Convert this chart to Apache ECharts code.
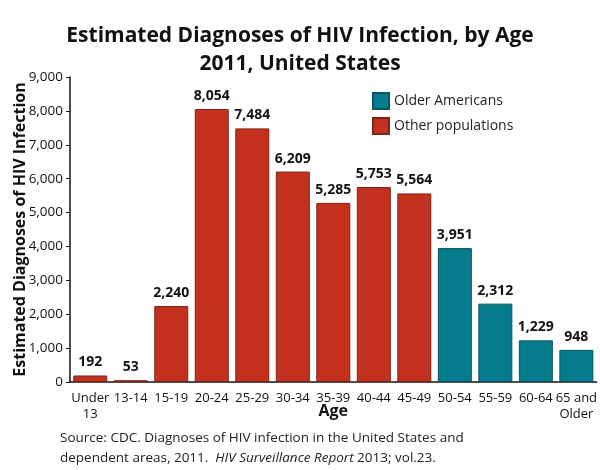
<!DOCTYPE html>
<html><head><meta charset="utf-8">
<script src="https://cdn.jsdelivr.net/npm/echarts@6/dist/echarts.min.js"></script>
<style>html,body{margin:0;padding:0;background:#fff}#c{width:600px;height:470px}</style>
</head><body><div id="c"></div>
<script>
const categories = ['Under\n13','13-14','15-19','20-24','25-29','30-34','35-39','40-44','45-49','50-54','55-59','60-64','65 and\nOlder'];
const otherValues = [192,53,2240,8054,7484,6209,5285,5753,5564,'-','-','-','-'];
const olderValues = ['-','-','-','-','-','-','-','-','-',3951,2312,1229,948];
const yTicks = [0,1000,2000,3000,4000,5000,6000,7000,8000,9000];
const FONT = 'Open Sans';
const chart = echarts.init(document.getElementById('c'), null, {renderer:'canvas'});
const fmt = v => v.toLocaleString('en-US');
const labelCfg = {show:true, position:'top', distance:6, color:'#111', fontFamily:FONT, fontWeight:'bold', fontSize:14, formatter:p=>fmt(p.value)};
chart.setOption({
  animation:false,
  textStyle:{fontFamily:FONT},
  title:{text:'Estimated Diagnoses of HIV Infection, by Age\n2011, United States', left:'center', top:17,
    textStyle:{fontFamily:FONT, fontWeight:'bold', fontSize:21, color:'#111', lineHeight:28}},
  legend:{data:['Older Americans','Other populations'], orient:'vertical', left:367, top:87, itemWidth:16, itemHeight:16, itemGap:7,
    icon:'rect', textStyle:{fontFamily:FONT, fontSize:14, color:'#222'}},
  grid:{left:70, right:2, top:77, bottom:88},
  xAxis:{type:'category', data:categories, axisTick:{show:false},
    axisLine:{lineStyle:{color:'#111', width:1.5}},
    axisLabel:{interval:0, color:'#111', fontFamily:FONT, fontSize:13, lineHeight:16, margin:8},
    name:'Age', nameLocation:'middle', nameGap:21, nameMoveOverlap:false,
    nameTextStyle:{fontFamily:FONT, fontWeight:'bold', fontSize:16, color:'#111'}},
  yAxis:{type:'value', min:0, max:9000, interval:1000, splitLine:{show:false},
    axisLine:{show:true, lineStyle:{color:'#111', width:1.5}},
    axisTick:{show:true, length:4, lineStyle:{color:'#111'}},
    axisLabel:{color:'#111', fontFamily:FONT, fontSize:13.5, margin:7, formatter:v=>fmt(v)},
    name:'Estimated Diagnoses of HIV Infection', nameLocation:'middle', nameGap:42, nameMoveOverlap:false,
    nameTextStyle:{fontFamily:FONT, fontWeight:'bold', fontSize:16, color:'#111'}},
  series:[
    {name:'Older Americans', type:'bar', stack:'a', data:olderValues, barWidth:34,
      itemStyle:{color:'#047c8c', borderColor:'#0b5560', borderWidth:1}, label:labelCfg},
    {name:'Other populations', type:'bar', stack:'a', data:otherValues, barWidth:34,
      itemStyle:{color:'#c3311e', borderColor:'#7e2318', borderWidth:1}, label:labelCfg}
  ],
  graphic:[{type:'text', left:60, top:428, style:{
    text:'Source: CDC. Diagnoses of HIV infection in the United States and\ndependent areas, 2011.  {i|HIV Surveillance Report} 2013; vol.23.',
    fontFamily:FONT, fontSize:13.5, lineHeight:20, fill:'#222',
    rich:{i:{fontStyle:'italic', fontFamily:FONT, fontSize:13.5, fill:'#222'}}}}]
});
</script></body></html>
